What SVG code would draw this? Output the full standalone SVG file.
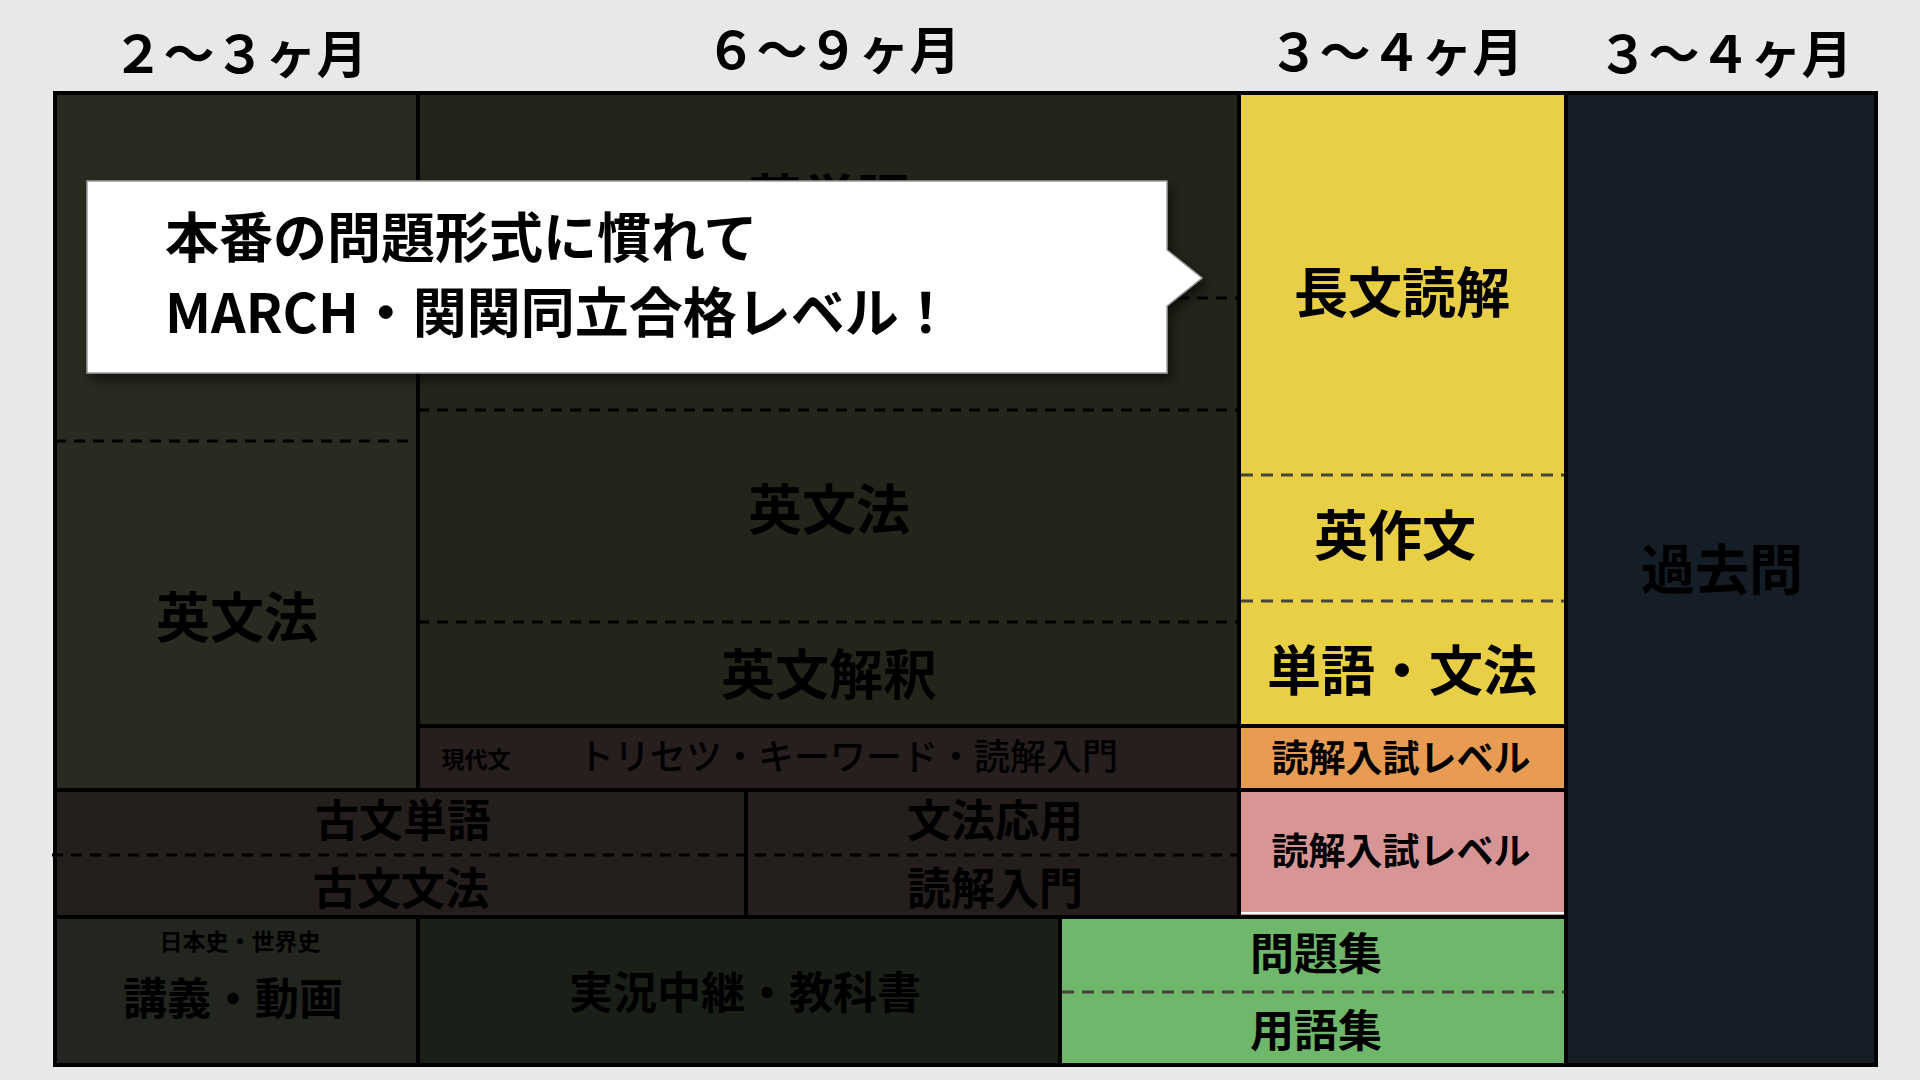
<svg xmlns="http://www.w3.org/2000/svg" width="1920" height="1080" viewBox="0 0 1920 1080">
<defs>
<style>
text{font-family:"Noto Sans CJK JP","Noto Sans",sans-serif;font-weight:700;fill:#000;text-anchor:middle}
.hdr{font-size:51px;font-weight:700}
.big{font-size:54px}
.mid{font-size:44px}
.lvl{font-size:37px}
.small{font-size:23px}
.solid{stroke:#000;stroke-width:4;fill:none}
.dash{stroke:#000;stroke-width:3;stroke-dasharray:11 8;fill:none}
.dashl{stroke:#45453a;stroke-width:3;stroke-dasharray:12 8;fill:none}
.callt{font-size:54px;text-anchor:start}
</style>
<filter id="shadow" x="-5%" y="-10%" width="115%" height="130%">
<feDropShadow dx="4" dy="6" stdDeviation="6" flood-color="#000" flood-opacity="0.6"/>
</filter>
</defs>
<rect width="1920" height="1080" fill="#e8e8e8"/>

<g id="headers">
<text class="hdr" x="240" y="73">２〜３ヶ月</text>
<text class="hdr" x="833" y="69">６〜９ヶ月</text>
<text class="hdr" x="1396" y="71">３〜４ヶ月</text>
<text class="hdr" x="1725" y="73">３〜４ヶ月</text>
</g>

<g id="col1-grammar">
<rect x="55" y="93" width="363" height="697" fill="#2a2a20"/>
<text class="big" x="237" y="638">英文法</text>
</g>
<g id="col2-english">
<rect x="418" y="93" width="821" height="633" fill="#25241b"/>
<text class="big" x="829" y="220">英単語</text>
<text class="big" x="829" y="530">英文法</text>
<text class="big" x="829" y="695">英文解釈</text>
</g>
<g id="gendaibun">
<rect x="418" y="726" width="821" height="64" fill="#261f1e"/>
<text class="small" x="476" y="768">現代文</text>
<text style="font-size:36px;font-weight:500" x="848" y="770">トリセツ・キーワード・読解入門</text>
</g>
<g id="kobun-left">
<rect x="55" y="790" width="691" height="127" fill="#241e1d"/>
<text class="mid" x="403" y="837">古文単語</text>
<text class="mid" x="401" y="905">古文文法</text>
</g>
<g id="kobun-right">
<rect x="746" y="790" width="493" height="127" fill="#241e1d"/>
<text class="mid" x="995" y="837">文法応用</text>
<text class="mid" x="995" y="905">読解入門</text>
</g>
<g id="history-lecture">
<rect x="55" y="917" width="363" height="148" fill="#22261f"/>
<text class="small" x="240" y="950">日本史・世界史</text>
<text class="mid" x="233" y="1015">講義・動画</text>
</g>
<g id="history-textbook">
<rect x="418" y="917" width="642" height="148" fill="#1a2018"/>
<text class="mid" x="745" y="1009">実況中継・教科書</text>
</g>
<g id="history-drill">
<rect x="1060" y="917" width="506" height="148" fill="#6eb76b"/>
<text class="mid" x="1316" y="970">問題集</text>
<text class="mid" x="1316" y="1047">用語集</text>
</g>
<g id="col3-yellow">
<rect x="1239" y="93" width="327" height="633" fill="#e8cf45"/>
<text class="big" x="1402" y="313">長文読解</text>
<text class="big" x="1395" y="556">英作文</text>
<text class="big" x="1402" y="691">単語・文法</text>
</g>
<g id="col3-orange">
<rect x="1239" y="726" width="327" height="64" fill="#e89b52"/>
<text class="lvl" x="1401" y="772">読解入試レベル</text>
</g>
<g id="col3-pink">
<rect x="1239" y="790" width="327" height="127" fill="#d89596"/>
<text class="lvl" x="1401" y="865">読解入試レベル</text>
</g>
<g id="col4-past">
<rect x="1566" y="93" width="310" height="972" fill="#151d26"/>
<text class="big" x="1722" y="590">過去問</text>
</g>

<g id="connectors">
<line class="dash" x1="55" y1="441" x2="418" y2="441"/>
<line class="dash" x1="418" y1="298" x2="1239" y2="298"/>
<line class="dash" x1="418" y1="410" x2="1239" y2="410"/>
<line class="dash" x1="418" y1="622" x2="1239" y2="622"/>
<line class="dash" x1="52" y1="855" x2="1239" y2="855"/>
<line class="dashl" x1="1241" y1="475" x2="1564" y2="475"/>
<line class="dashl" x1="1241" y1="601" x2="1564" y2="601"/>
<line class="dashl" x1="1062" y1="992" x2="1564" y2="992"/>
<line x1="1241" y1="913" x2="1564" y2="913" stroke="#fff" stroke-width="2"/>
<line class="solid" x1="418" y1="93" x2="418" y2="790"/>
<line class="solid" x1="418" y1="917" x2="418" y2="1065"/>
<line class="solid" x1="746" y1="790" x2="746" y2="917"/>
<line class="solid" x1="1239" y1="93" x2="1239" y2="917"/>
<line class="solid" x1="1566" y1="93" x2="1566" y2="1065"/>
<line class="solid" x1="1060" y1="917" x2="1060" y2="1065"/>
<line class="solid" x1="418" y1="726" x2="1566" y2="726"/>
<line class="solid" x1="55" y1="790" x2="1566" y2="790"/>
<line class="solid" x1="55" y1="917" x2="1566" y2="917"/>
<rect class="solid" x="55" y="93" width="1821" height="972"/>
</g>

<g id="callout">
<path d="M87 181 H1167 V250 L1202 278 L1167 306 V373 H87 Z" fill="#fff" stroke="#9a9a9a" stroke-width="1.5" filter="url(#shadow)"/>
<text class="callt" x="165" y="258">本番の問題形式に慣れて</text>
<text class="callt" x="165" y="333">MARCH・関関同立合格レベル！</text>
</g>
</svg>
